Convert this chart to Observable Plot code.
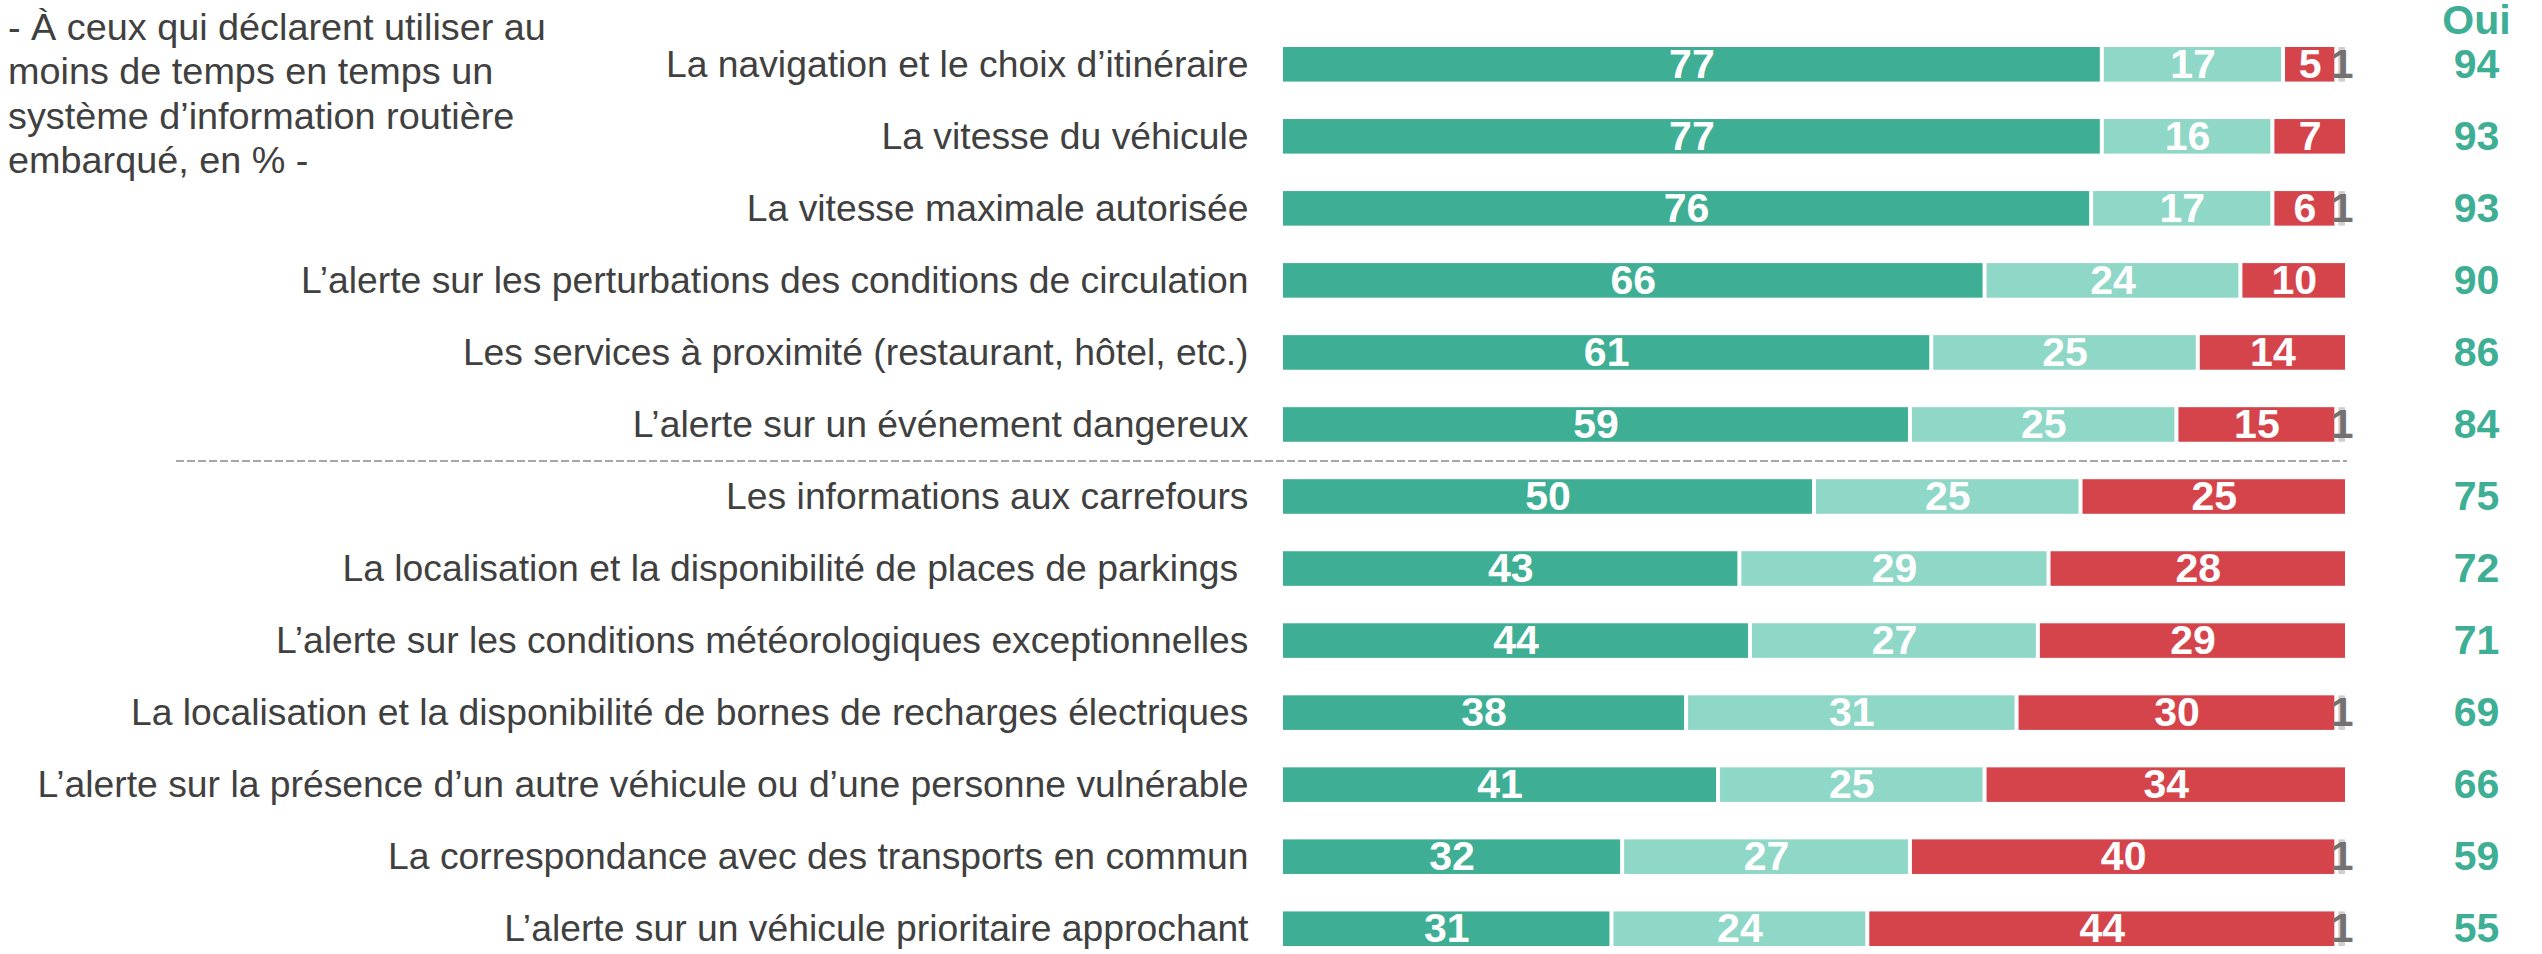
<!DOCTYPE html>
<html><head><meta charset="utf-8">
<script src="https://cdn.jsdelivr.net/npm/d3@7"></script>
<script src="https://cdn.jsdelivr.net/npm/@observablehq/plot@0.6"></script>
<style>
body{margin:0;background:#fff;}
#wrap{position:relative;width:2542px;height:954px;}
#note{position:absolute;left:8px;top:5px;font-family:"Liberation Sans",Arial,sans-serif;font-size:37.8px;line-height:44.3px;color:#404040;white-space:nowrap;}
</style></head><body>
<div id="wrap"><div id="note">- À ceux qui déclarent utiliser au<br>moins de temps en temps un<br>système d’information routière<br>embarqué, en % -</div></div>
<script>
const categories = [
  "La navigation et le choix d’itinéraire",
  "La vitesse du véhicule",
  "La vitesse maximale autorisée",
  "L’alerte sur les perturbations des conditions de circulation",
  "Les services à proximité (restaurant, hôtel, etc.)",
  "L’alerte sur un événement dangereux",
  "Les informations aux carrefours",
  "La localisation et la disponibilité de places de parkings\u00a0",
  "L’alerte sur les conditions météorologiques exceptionnelles",
  "La localisation et la disponibilité de bornes de recharges électriques",
  "L’alerte sur la présence d’un autre véhicule ou d’une personne vulnérable",
  "La correspondance avec des transports en commun",
  "L’alerte sur un véhicule prioritaire approchant"
];
const seriesNames = ["Oui, tout à fait", "Oui, plutôt", "Non", "Ne sait pas"];
const ouiToutAFait = [77, 77, 76, 66, 61, 59, 50, 43, 44, 38, 41, 32, 31];
const ouiPlutot    = [17, 16, 17, 24, 25, 25, 25, 29, 27, 31, 25, 27, 24];
const non          = [5, 7, 6, 10, 14, 15, 25, 28, 29, 30, 34, 40, 44];
const nsp          = [1, 0, 1, 0, 0, 1, 0, 0, 0, 1, 0, 1, 1];
const ouiTotal     = [94, 93, 93, 90, 86, 84, 75, 72, 71, 69, 66, 59, 55];
const separatorBefore = "Les informations aux carrefours";

const colors = ["#3eae94", "#8fd7c7", "#d6444b", "#cfcfcf"];
const seriesValues = [ouiToutAFait, ouiPlutot, non, nsp];

const rows = [];
categories.forEach((c, i) => {
  seriesValues.forEach((vals, s) => {
    if (vals[i] > 0) rows.push({category: c, series: seriesNames[s], value: vals[i]});
  });
});
const ouiRows = categories.map((c, i) => ({category: c, oui: ouiTotal[i]}));

const W = 2542, H = 954, mT = 47, mB = 8, mL = 1281, mR = 195, padIn = 0.52;
const step = (H - mT - mB) / (categories.length - padIn);
const font = "'Liberation Sans', Arial, sans-serif";

const plot = Plot.plot({
  width: W, height: H,
  marginTop: mT, marginBottom: mB, marginLeft: mL, marginRight: mR,
  style: {fontFamily: font, background: "white", overflow: "visible"},
  x: {domain: [0, 100], axis: null},
  y: {domain: categories, paddingInner: padIn, paddingOuter: 0, round: false, label: null},
  color: {domain: seriesNames, range: colors},
  marks: [
    Plot.axisY({tickSize: 0, tickPadding: 33, fontSize: 37.3, fill: "#404040", label: null}),
    Plot.ruleY([separatorBefore], {dy: -step / 2, stroke: "#a6a6a6", strokeWidth: 2, strokeDasharray: "8,3", insetLeft: -(mL - 176)}),
    Plot.barX(rows, {x: "value", y: "category", fill: "series", insetLeft: 2, insetRight: 2}),
    Plot.text(rows, Plot.stackX({
      x: "value", y: "category", text: d => String(d.value),
      fill: d => d.series === "Ne sait pas" ? "#767171" : "#ffffff",
      fontSize: 41, fontWeight: "bold", textAnchor: "middle", lineAnchor: "middle"
    })),
    Plot.text(ouiRows, {x: () => 100, y: "category", text: d => String(d.oui), dx: 129, fill: "#3eae94", fontSize: 41, fontWeight: "bold", textAnchor: "middle"}),
    Plot.text(["Oui"], {frameAnchor: "top-right", dx: 129, dy: -14, lineAnchor: "bottom", fill: "#3eae94", fontSize: 41, fontWeight: "bold", textAnchor: "middle"})
  ]
});
document.getElementById("wrap").prepend(plot);
</script>
</body></html>
